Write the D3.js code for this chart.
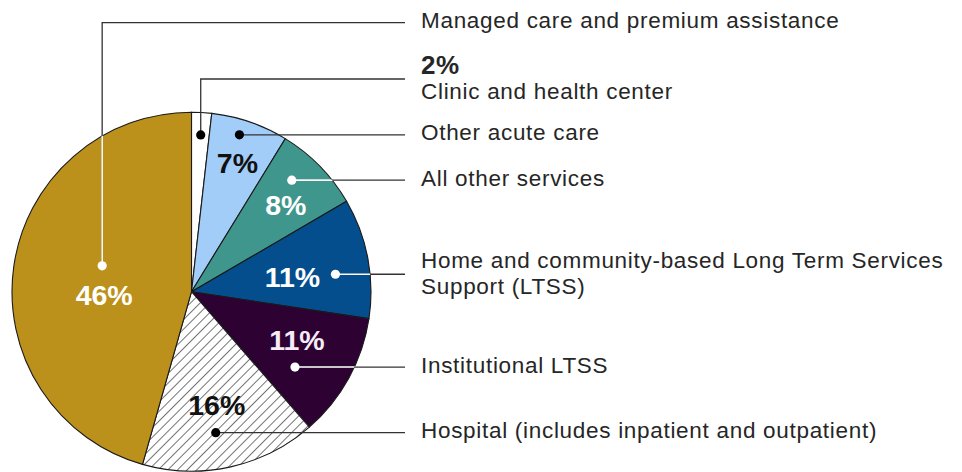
<!DOCTYPE html>
<html>
<head>
<meta charset="utf-8">
<script src="https://cdn.jsdelivr.net/npm/d3@7"></script>
<style>
  body { margin: 0; background: #fff; }
  svg text { font-family: "Liberation Sans", Arial, sans-serif; }
</style>
</head>
<body>
<svg id="chart"></svg>
<script>
// Data (clockwise from 12 o'clock)
var categories = [
  "Clinic and health center",
  "Other acute care",
  "All other services",
  "Home and community-based Long Term Services|Support (LTSS)",
  "Institutional LTSS",
  "Hospital (includes inpatient and outpatient)",
  "Managed care and premium assistance"
];
var shares = [1.8, 6.95, 7.85, 10.8, 11.2, 15.8, 45.6];
var pctLabels = ["2%", "7%", "8%", "11%", "11%", "16%", "46%"];

// Colours for each slice
var colors = ["#ffffff", "#a2cdf8", "#3f968c", "#044e8e", "#2d0233", "url(#hatch)", "#bb911b"];
var dotColors = ["#000", "#000", "#fff", "#fff", "#fff", "#000", "#fff"];
var pctColors = ["#111", "#111", "#fff", "#fff", "#f6ecf6", "#111", "#fff"];

// Layout of the callouts: where the dot sits inside its slice
var dotFrac = [0.52, 0.42, 0.37, 0.6, 0.68, 0.55, 0.55];
var dotRad = [157, 164, 150, 145, 128, 143, 93];
// offset of the percent text from the dot
var pctOff = [null, [-2, 38], [-6, 35], [-43, 13], [2, -17], [1, -18], [2, 39]];
// elbow height for leaders that go up first
var elbowY = [79, null, null, null, null, null, 22.7];

var width = 962, height = 472;
var cx = 191.5, cy = 291.7, radius = 179.5;
var lineEnd = 405, textX = 421;

var svg = d3.select("#chart").attr("width", width).attr("height", height);

var defs = svg.append("defs");
var hs = 6.8;
var hatch = defs.append("pattern")
  .attr("id", "hatch")
  .attr("patternUnits", "userSpaceOnUse")
  .attr("width", hs)
  .attr("height", hs)
  .attr("patternTransform", "rotate(45)");
hatch.append("rect").attr("width", hs).attr("height", hs).attr("fill", "#fff");
hatch.append("line")
  .attr("x1", 0).attr("y1", 0).attr("x2", 0).attr("y2", hs)
  .attr("stroke", "#1a1a1a").attr("stroke-width", 1.2);

defs.append("clipPath").attr("id", "pieClip")
  .append("circle").attr("cx", cx).attr("cy", cy).attr("r", radius);

var pie = d3.pie().sort(null).value(function(d) { return d; });
var arcs = pie(shares);
var arc = d3.arc().innerRadius(0).outerRadius(radius);

var g = svg.append("g").attr("transform", "translate(" + cx + "," + cy + ")");

g.selectAll("path.slice")
  .data(arcs)
  .enter().append("path")
  .attr("class", "slice")
  .attr("d", arc)
  .attr("fill", function(d, i) { return colors[i]; })
  .attr("stroke", "#1a1a1a")
  .attr("stroke-width", 1.1);

// dot positions from the arcs
var dots = arcs.map(function(d, i) {
  var a = d.startAngle + (d.endAngle - d.startAngle) * dotFrac[i];
  return [cx + dotRad[i] * Math.sin(a), cy - dotRad[i] * Math.cos(a)];
});

function leaderPoints(i) {
  var p = dots[i];
  if (elbowY[i] != null) {
    return [p, [p[0], elbowY[i]], [lineEnd, elbowY[i]]];
  }
  return [p, [lineEnd, p[1]]];
}
function leaderY(i) {
  return elbowY[i] != null ? elbowY[i] : dots[i][1];
}

var line = d3.line();
var idx = d3.range(categories.length);

// dark leader lines
svg.selectAll("path.leader")
  .data(idx)
  .enter().append("path")
  .attr("class", "leader")
  .attr("d", function(i) { return line(leaderPoints(i)); })
  .attr("fill", "none")
  .attr("stroke", "#333")
  .attr("stroke-width", 1.3);

// white part of leaders inside the pie for white dots
svg.append("g").attr("clip-path", "url(#pieClip)")
  .selectAll("path")
  .data(idx.filter(function(i) { return dotColors[i] === "#fff"; }))
  .enter().append("path")
  .attr("d", function(i) { return line(leaderPoints(i)); })
  .attr("fill", "none")
  .attr("stroke", "#fff")
  .attr("stroke-width", 1.6);

svg.selectAll("circle.dot")
  .data(idx)
  .enter().append("circle")
  .attr("class", "dot")
  .attr("cx", function(i) { return dots[i][0]; })
  .attr("cy", function(i) { return dots[i][1]; })
  .attr("r", 4.6)
  .attr("fill", function(i) { return dotColors[i]; });

// percent labels inside the slices
svg.selectAll("text.pct")
  .data(idx.filter(function(i) { return pctOff[i] != null; }))
  .enter().append("text")
  .attr("class", "pct")
  .attr("x", function(i) { return dots[i][0] + pctOff[i][0]; })
  .attr("y", function(i) { return dots[i][1] + pctOff[i][1]; })
  .attr("text-anchor", "middle")
  .attr("font-size", 28.5)
  .attr("font-weight", "bold")
  .attr("fill", function(i) { return pctColors[i]; })
  .text(function(i) { return pctLabels[i]; });

// category labels on the right
idx.forEach(function(i) {
  var y = leaderY(i);
  var parts = categories[i].split("|");
  var t = svg.append("text")
    .attr("x", textX)
    .attr("font-size", 22.5)
    .attr("letter-spacing", 0.7)
    .attr("fill", "#262626");
  if (pctOff[i] == null) {
    // small slice: percent shown next to the name
    svg.append("text")
      .attr("x", textX)
      .attr("y", y - 5.5)
      .attr("font-size", 26)
      .attr("font-weight", "bold")
      .attr("letter-spacing", 0.5)
      .attr("fill", "#262626")
      .text(pctLabels[i]);
    t.attr("y", y + 20).text(parts[0]);
  } else if (parts.length > 1) {
    t.attr("y", y - 6);
    parts.forEach(function(p, k) {
      t.append("tspan").attr("x", textX).attr("dy", k === 0 ? 0 : 26).text(p);
    });
  } else {
    t.attr("y", y + 5.5).text(parts[0]);
  }
});
</script>
</body>
</html>
